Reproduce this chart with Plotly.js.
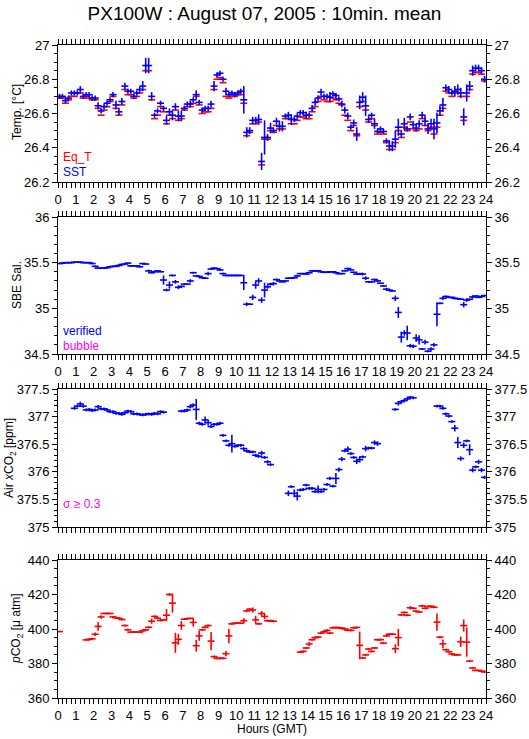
<!DOCTYPE html>
<html>
<head>
<meta charset="utf-8">
<script src="https://cdn.plot.ly/plotly-3.0.1.min.js"></script>
<style>html,body{margin:0;padding:0;background:#fff;}#chart{width:529px;height:739px;}</style>
</head>
<body>
<div id="chart"></div>
<script>
// 10-minute mean time stamps (hours GMT)
const hours = [
0.083,0.25,0.417,0.583,0.75,0.917,
1.083,1.25,1.417,1.583,1.75,1.917,
2.083,2.25,2.417,2.583,2.75,2.917,
3.083,3.25,3.417,3.583,3.75,3.917,
4.083,4.25,4.417,4.583,4.75,4.917,
5.083,5.25,5.417,5.583,5.75,5.917,
6.083,6.25,6.417,6.583,6.75,6.917,
7.083,7.25,7.417,7.583,7.75,7.917,
8.083,8.25,8.417,8.583,8.75,8.917,
9.083,9.25,9.417,9.583,9.75,9.917,
10.083,10.25,10.417,10.583,10.75,10.917,
11.083,11.25,11.417,11.583,11.75,11.917,
12.083,12.25,12.417,12.583,12.75,12.917,
13.083,13.25,13.417,13.583,13.75,13.917,
14.083,14.25,14.417,14.583,14.75,14.917,
15.083,15.25,15.417,15.583,15.75,15.917,
16.083,16.25,16.417,16.583,16.75,16.917,
17.083,17.25,17.417,17.583,17.75,17.917,
18.083,18.25,18.417,18.583,18.75,18.917,
19.083,19.25,19.417,19.583,19.75,19.917,
20.083,20.25,20.417,20.583,20.75,20.917,
21.083,21.25,21.417,21.583,21.75,21.917,
22.083,22.25,22.417,22.583,22.75,22.917,
23.083,23.25,23.417,23.583,23.75,23.917];

const hourTicks = [0,1,2,3,4,5,6,7,8,9,10,11,12,13,14,15,16,17,18,19,20,21,22,23,24];

// Panel 1: temperatures
const sst = [
26.70,26.70,26.675,26.69,26.72,26.72,26.72,26.74,26.70,26.71,
26.71,26.69,26.69,26.645,26.615,26.64,26.66,26.68,26.71,26.65,
26.61,26.67,26.76,26.73,26.73,26.70,26.72,26.74,26.76,26.88,
26.88,26.70,26.59,26.615,26.66,26.63,26.56,26.61,26.59,26.64,
26.585,26.585,26.63,26.655,26.655,26.68,26.71,26.665,26.62,26.63,
26.63,26.655,26.76,26.825,26.835,26.80,26.73,26.71,26.72,26.71,
26.72,26.73,26.68,26.49,26.50,26.56,26.56,26.565,26.32,26.46,
26.46,26.515,26.50,26.555,26.525,26.525,26.585,26.59,26.565,26.565,
26.585,26.605,26.605,26.59,26.59,26.63,26.665,26.69,26.725,26.70,
26.70,26.695,26.715,26.705,26.685,26.655,26.62,26.585,26.52,26.545,
26.48,26.665,26.695,26.645,26.565,26.59,26.54,26.495,26.51,26.495,
26.44,26.41,26.41,26.45,26.52,26.48,26.54,26.51,26.58,26.535,
26.515,26.54,26.59,26.555,26.51,26.54,26.51,26.545,26.615,26.65,
26.75,26.74,26.72,26.73,26.74,26.72,26.58,26.72,26.76,26.85,
26.865,26.865,26.85,26.80];
const sstErr = [
0.015,0.015,0.015,0.015,0.015,0.015,0.015,0.02,0.015,0.015,
0.015,0.015,0.015,0.02,0.015,0.015,0.015,0.015,0.015,0.025,
0.02,0.02,0.02,0.015,0.015,0.015,0.015,0.015,0.03,0.045,
0.045,0.025,0.015,0.015,0.015,0.015,0.025,0.02,0.03,0.02,
0.03,0.03,0.015,0.015,0.02,0.015,0.025,0.015,0.015,0.015,
0.015,0.02,0.03,0.015,0.015,0.015,0.02,0.015,0.015,0.015,
0.015,0.015,0.08,0.03,0.02,0.02,0.02,0.03,0.05,0.1,
0.02,0.03,0.015,0.02,0.03,0.03,0.015,0.02,0.03,0.015,
0.015,0.015,0.015,0.02,0.015,0.02,0.02,0.015,0.02,0.015,
0.015,0.03,0.015,0.015,0.015,0.02,0.02,0.02,0.015,0.02,
0.04,0.04,0.03,0.06,0.02,0.015,0.03,0.015,0.015,0.015,
0.015,0.03,0.03,0.05,0.05,0.02,0.035,0.015,0.02,0.02,
0.02,0.02,0.02,0.03,0.03,0.03,0.06,0.06,0.03,0.04,
0.02,0.02,0.015,0.03,0.03,0.03,0.05,0.05,0.03,0.03,
0.02,0.02,0.02,0.02];
const eqT = [
26.69,26.69,26.66,26.68,26.70,26.70,26.72,26.72,26.69,26.70,
26.69,26.68,26.68,26.63,26.59,26.62,26.64,26.67,26.70,26.63,
26.59,26.65,26.74,26.71,26.71,26.69,26.70,26.72,26.74,26.85,
26.85,26.68,26.57,26.59,26.64,26.61,26.54,26.59,26.57,26.62,
26.56,26.57,26.62,26.64,26.64,26.66,26.70,26.65,26.60,26.61,
26.61,26.63,26.74,26.80,26.81,26.78,26.70,26.69,26.70,26.70,
26.71,26.71,26.66,26.47,26.49,26.54,26.54,26.55,26.30,26.45,
26.45,26.50,26.49,26.53,26.51,26.51,26.57,26.57,26.54,26.54,
26.56,26.58,26.58,26.57,26.57,26.61,26.64,26.67,26.70,26.68,
26.67,26.67,26.69,26.68,26.66,26.65,26.59,26.56,26.50,26.53,
26.47,26.64,26.67,26.62,26.55,26.57,26.53,26.48,26.49,26.48,
26.43,26.39,26.39,26.43,26.50,26.46,26.52,26.50,26.55,26.51,
26.50,26.51,26.57,26.53,26.50,26.52,26.48,26.52,26.59,26.63,
26.73,26.72,26.70,26.72,26.72,26.70,26.56,26.70,26.74,26.83,
26.84,26.84,26.83,26.79];

// Panel 2: SBE salinity
const sal = [
35.49,35.495,35.50,35.50,35.50,35.505,35.505,35.505,35.50,35.50,
35.50,35.49,35.46,35.44,35.44,35.44,35.445,35.455,35.46,35.46,
35.47,35.48,35.485,35.495,35.465,35.465,35.465,35.455,35.49,35.485,
35.41,35.39,35.40,35.41,35.40,35.31,35.20,35.255,35.36,35.29,
35.23,35.24,35.265,35.265,35.30,35.39,35.355,35.35,35.335,35.33,
35.38,35.43,35.44,35.435,35.42,35.38,35.36,35.36,35.36,35.36,
35.36,35.36,35.28,35.045,35.045,35.12,35.255,35.30,35.09,35.20,
35.235,35.265,35.27,35.315,35.30,35.29,35.30,35.33,35.33,35.335,
35.355,35.38,35.38,35.375,35.39,35.41,35.41,35.41,35.40,35.395,
35.395,35.40,35.40,35.39,35.38,35.38,35.41,35.435,35.42,35.395,
35.375,35.38,35.375,35.33,35.29,35.29,35.315,35.30,35.275,35.245,
35.21,35.20,35.19,35.11,34.955,34.685,34.73,34.73,34.59,34.585,
34.675,34.655,34.555,34.63,34.53,34.555,34.60,34.935,35.055,35.11,
35.13,35.12,35.12,35.11,35.105,35.10,35.04,35.09,35.10,35.125,
35.135,35.12,35.13,35.14];
const salErr = [
0.004,0.008,0.008,0.008,0.008,0.008,0.008,0.008,0.004,0.004,
0.004,0.004,0.01,0.004,0.004,0.004,0.004,0.008,0.008,0.008,
0.008,0.008,0.008,0.008,0.01,0.004,0.004,0.01,0.008,0.004,
0.015,0.01,0.004,0.008,0.004,0.05,0.015,0.04,0.01,0.02,
0.02,0.01,0.01,0.004,0.02,0.01,0.004,0.004,0.004,0.004,
0.02,0.01,0.01,0.004,0.01,0.01,0.004,0.004,0.004,0.004,
0.004,0.004,0.08,0.02,0.01,0.03,0.04,0.03,0.03,0.08,
0.02,0.015,0.02,0.01,0.01,0.004,0.004,0.01,0.004,0.004,
0.01,0.004,0.004,0.01,0.004,0.004,0.01,0.004,0.004,0.004,
0.004,0.01,0.004,0.004,0.004,0.004,0.004,0.01,0.004,0.004,
0.01,0.004,0.015,0.02,0.01,0.004,0.01,0.01,0.004,0.01,
0.015,0.01,0.004,0.03,0.06,0.06,0.03,0.08,0.02,0.02,
0.04,0.05,0.01,0.025,0.01,0.02,0.02,0.13,0.01,0.02,
0.01,0.004,0.004,0.004,0.004,0.004,0.03,0.02,0.004,0.015,
0.01,0.004,0.004,0.004];

// Panel 3: Air xCO2
const xco2 = [
null,null,null,null,null,377.15,377.19,377.23,377.19,377.12,
377.13,377.11,377.12,377.18,377.14,377.14,377.12,377.09,377.09,377.06,
377.06,377.04,377.07,377.10,377.09,377.05,377.05,377.04,377.03,377.04,
377.05,377.04,377.06,377.05,377.09,377.08,null,null,null,null,
null,377.10,377.10,377.12,377.18,377.21,377.13,376.88,376.86,376.94,
376.89,376.82,376.86,376.86,376.88,376.66,376.56,376.48,376.51,376.46,
376.48,376.48,376.42,376.38,376.36,376.36,376.30,376.28,376.34,376.26,
376.18,376.13,null,null,null,null,null,375.61,375.73,375.61,
375.56,375.67,375.68,375.76,375.70,375.70,375.64,375.68,375.64,375.68,
375.77,375.88,375.74,375.88,376.04,376.23,376.38,376.41,376.33,376.26,
376.19,376.22,376.27,376.42,376.43,376.43,376.53,376.51,null,null,
null,null,null,377.13,377.24,377.27,377.29,377.32,377.35,377.34,
null,null,null,null,null,null,null,377.19,377.19,377.15,
377.05,377.01,376.91,376.79,376.53,376.24,376.48,376.56,376.40,376.03,
376.09,376.18,376.03,375.90];
const xco2Err = [
0,0,0,0,0,0.025,0.025,0.04,0.03,0.025,
0.025,0.025,0.025,0.03,0.025,0.025,0.025,0.025,0.025,0.025,
0.025,0.025,0.025,0.025,0.025,0.025,0.025,0.025,0.025,0.025,
0.025,0.025,0.025,0.025,0.025,0.025,0,0,0,0,
0,0.025,0.025,0.025,0.03,0.03,0.19,0.025,0.025,0.06,
0.05,0.025,0.025,0.025,0.025,0.025,0.025,0.025,0.16,0.025,
0.025,0.025,0.025,0.025,0.025,0.025,0.025,0.025,0.04,0.025,
0.03,0.025,0,0,0,0,0,0.05,0.025,0.07,
0.08,0.025,0.025,0.025,0.025,0.025,0.025,0.07,0.025,0.025,
0.025,0.03,0.025,0.1,0.04,0.04,0.025,0.05,0.025,0.025,
0.05,0.05,0.025,0.05,0.025,0.025,0.04,0.04,0,0,
0,0,0,0.025,0.04,0.025,0.025,0.025,0.025,0.025,
0,0,0,0,0,0,0,0.025,0.025,0.025,
0.025,0.025,0.025,0.06,0.1,0.04,0.05,0.025,0.1,0.04,
0.025,0.04,0.04,0.03];

// Panel 4: pCO2
const pco2 = [
398.5,null,null,null,null,null,null,null,null,393.7,
394,394.3,397,401.5,407,409,409,409,407,406.5,
406.2,405.5,402,399.5,398.2,398.2,398.2,398.2,399,399.5,
401,404.5,407.3,406.3,405,405.3,408,420,415,392,
394,402,405.7,406,406.2,403.8,390.3,396,399.5,401,
402,393,384,383,383,383,385.7,396,403,403.4,
403.4,403.4,404.8,410.5,411.5,411,405.3,403,409,407.3,
404.8,404.8,404.5,null,null,null,null,null,null,null,
null,386.6,387,389,391.3,393.8,395,395.3,397.6,398.4,
399.2,397.6,400.7,400.9,400.7,400.5,400,399.3,399.2,400.7,
400.9,390.5,383.2,385,388.4,387,389,393.8,393.8,391.8,
396,397,397,388.6,395,408.2,409.6,408,412.3,412,
410.3,409.9,413.4,412,413,413.2,412.6,404,395.3,391.4,
388,386.8,385.5,385,385,392.6,402,392.4,381.4,377.4,
376,376,375.6,375.1];
const pco2Err = [
0.2,0,0,0,0,0,0,0,0,0.6,
0.6,0.6,1,2.5,1,0.2,0.2,0.2,0.6,0.6,
0.6,0.6,0.6,0.6,0.2,0.2,0.2,0.2,0.6,0.6,
0.6,1.5,0.6,0.6,0.6,0.6,3.5,0.8,5.5,5.8,
3.2,2.5,0.2,0.2,0.2,2.4,3.4,2.8,0.6,0.6,
0.6,5.3,0.6,0.6,0.6,0.6,1.5,4.2,0.6,0.2,
0.2,0.2,1.5,0.6,0.6,1.5,2.4,0.6,1.5,1.5,
0.6,0.6,0.6,0,0,0,0,0,0,0,
0,0.6,0.6,0.6,1.2,0.6,0.6,0.6,0.6,0.6,
0.6,0.6,0.6,0.6,0.6,0.6,0.6,0.6,0.6,0.6,
0.6,8,0.6,0.6,0.6,0.6,0.6,0.6,0.6,0.6,
0.6,0.6,0.6,2.5,5,0.6,0.6,0.6,1,0.6,
0.6,0.6,0.6,0.6,0.6,0.6,0.6,5,0.6,2.5,
0.6,0.6,0.6,0.6,0.6,3,3.5,8.5,0.6,0.6,
0.2,0.2,0.6,0.6];

const RED = '#ff0000', BLUE = '#0000ff', MAG = '#ff00ff';
const FONT = 'Liberation Sans, Arial, sans-serif';

function barTrace(y, err, color, xa, ya, name) {
  const t = {
    type: 'scatter', mode: 'markers', name: name,
    x: hours, y: y, xaxis: xa, yaxis: ya,
    marker: {symbol: 'line-ew', size: 5, color: color, line: {width: 1.6, color: color}},
    showlegend: false, hoverinfo: 'x+y'
  };
  if (err) t.error_y = {type: 'data', array: err, visible: true, color: color, thickness: 1.6, width: 0};
  return t;
}
// invisible copy so the right-hand value axis of each panel is drawn
function ghost(y, xa, ya) {
  return {type: 'scatter', mode: 'markers', x: hours, y: y, xaxis: xa, yaxis: ya,
          marker: {opacity: 0, size: 1}, showlegend: false, hoverinfo: 'skip'};
}

const data = [
  barTrace(eqT, null, RED, 'x', 'y', 'Eq_T'),
  barTrace(sst, sstErr, BLUE, 'x', 'y', 'SST'),
  barTrace(sal, salErr, BLUE, 'x2', 'y2', 'SBE Sal.'),
  barTrace(xco2, xco2Err, BLUE, 'x3', 'y3', 'Air xCO2'),
  barTrace(pco2, pco2Err, RED, 'x4', 'y4', 'pCO2'),
  ghost(sst, 'x', 'y5'),
  ghost(sal, 'x2', 'y6'),
  ghost(xco2, 'x3', 'y7'),
  ghost(pco2, 'x4', 'y8')
];

const W = 529, H = 739;
const xDom = [58 / W, 486 / W];
const panels = [
  {top: 45, bot: 182, range: [26.2, 27], dtick: 0.2, minor: 0.05, labels: true},
  {top: 217, bot: 354, range: [34.5, 36], dtick: 0.5, minor: 0.1, labels: true},
  {top: 389, bot: 527, range: [375, 377.5], dtick: 0.5, minor: 0.1, labels: false},
  {top: 560, bot: 698, range: [360, 440], dtick: 20, minor: 5, labels: true}
];

const layout = {
  width: W, height: H,
  margin: {l: 0, r: 0, t: 0, b: 0},
  paper_bgcolor: '#fff', plot_bgcolor: '#fff',
  font: {family: FONT, size: 13, color: '#000'},
  showlegend: false,
  title: {text: 'PX100W : August 07, 2005 : 10min. mean', x: 0.5, xanchor: 'center',
          y: 1 - 13 / H, yanchor: 'middle', font: {family: FONT, size: 19, color: '#000'}},
  annotations: []
};

panels.forEach((p, i) => {
  const n = i + 1;
  const sfx = n === 1 ? '' : String(n);
  const dom = [1 - p.bot / H, 1 - p.top / H];
  const tf = {family: FONT, size: 13, color: '#000'};
  layout['xaxis' + sfx] = {
    domain: xDom, range: [0, 24], anchor: 'y' + sfx,
    tickmode: 'array', tickvals: hourTicks, ticktext: hourTicks.map(String),
    showticklabels: p.labels, ticks: 'outside', ticklen: 5, tickwidth: 1, tickcolor: '#000',
    minor: {dtick: 0.25, ticks: 'outside', ticklen: 3, tickwidth: 1, tickcolor: '#000'},
    showline: true, linecolor: '#000', linewidth: 1, mirror: 'allticks',
    showgrid: false, zeroline: false, tickfont: tf
  };
  layout['yaxis' + sfx] = {
    domain: dom, range: p.range, anchor: 'x' + sfx, side: 'left',
    dtick: p.dtick, tick0: p.range[0], ticks: 'outside', ticklen: 5, tickwidth: 1, tickcolor: '#000',
    minor: {dtick: p.minor, ticks: 'outside', ticklen: 3, tickwidth: 1, tickcolor: '#000'},
    showline: true, linecolor: '#000', linewidth: 1,
    showgrid: false, zeroline: false, tickfont: tf
  };
  layout['yaxis' + (n + 4)] = {
    overlaying: 'y' + sfx, anchor: 'x' + sfx, side: 'right', range: p.range,
    dtick: p.dtick, tick0: p.range[0], ticks: 'outside', ticklen: 5, tickwidth: 1, tickcolor: '#000',
    minor: {dtick: p.minor, ticks: 'outside', ticklen: 3, tickwidth: 1, tickcolor: '#000'},
    showline: true, linecolor: '#000', linewidth: 1,
    showgrid: false, zeroline: false, tickfont: tf
  };
});

// y-axis titles
const yTitles = [
  {text: 'Temp. [°C]', x: 17, y: 112},
  {text: 'SBE Sal.', x: 17, y: 285},
  {text: 'Air <i>x</i>CO<sub>2</sub> [ppm]', x: 10, y: 458},
  {text: '<i>p</i>CO<sub>2</sub> [μ atm]', x: 17, y: 629}
];
yTitles.forEach(t => layout.annotations.push({
  text: t.text, xref: 'paper', yref: 'paper', x: t.x / W, y: 1 - t.y / H,
  xanchor: 'center', yanchor: 'middle', textangle: -90, showarrow: false,
  font: {family: FONT, size: 12, color: '#000'}
}));

const inner = [
  {text: 'Eq_T', color: RED, y: 157},
  {text: 'SST', color: BLUE, y: 172},
  {text: 'verified', color: BLUE, y: 331},
  {text: 'bubble', color: MAG, y: 346},
  {text: 'σ ≥ 0.3', color: MAG, y: 504}
];
inner.forEach(t => layout.annotations.push({
  text: t.text, xref: 'paper', yref: 'paper', x: 61 / W, y: 1 - t.y / H,
  xanchor: 'left', yanchor: 'middle', showarrow: false,
  font: {family: FONT, size: 12, color: t.color}
}));

layout.annotations.push({
  text: 'Hours (GMT)', xref: 'paper', yref: 'paper', x: 272 / W, y: 1 - 729 / H,
  xanchor: 'center', yanchor: 'middle', showarrow: false,
  font: {family: FONT, size: 12, color: '#000'}
});

Plotly.newPlot('chart', data, layout, {staticPlot: true, displayModeBar: false});
</script>
</body>
</html>
